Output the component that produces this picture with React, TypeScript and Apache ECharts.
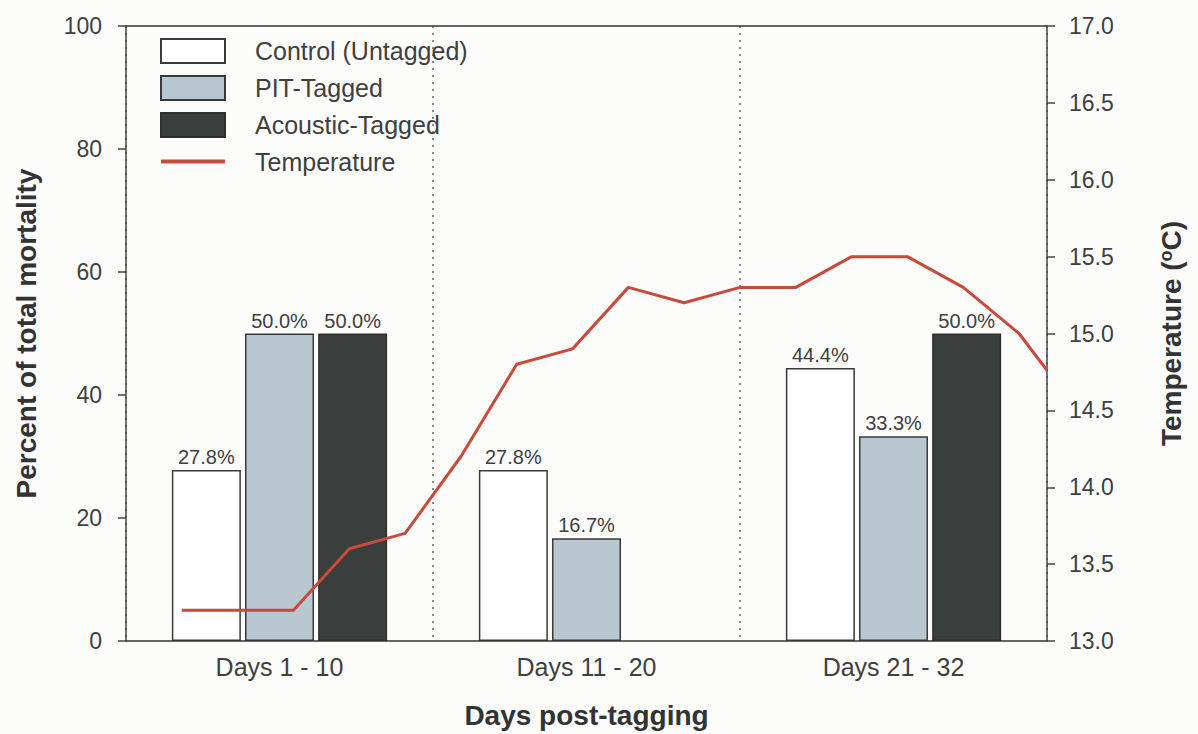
import React, { useEffect, useRef } from "react";
import * as echarts from "echarts";

const categories = ["Days 1 - 10", "Days 11 - 20", "Days 21 - 32"];
const controlValues = [27.8, 27.8, 44.4];
const pitValues = [50.0, 16.7, 33.3];
const acousticValues: (number | null)[] = [50.0, null, 50.0];
const tempDays = [2, 4, 6, 8, 10, 12, 14, 16, 18, 20, 22, 24, 26, 28, 30, 32, 33];
const tempValues = [13.2, 13.2, 13.2, 13.6, 13.7, 14.2, 14.8, 14.9, 15.3, 15.2, 15.3, 15.3, 15.5, 15.5, 15.3, 15.0, 14.76];
const leftTicks = { min: 0, max: 100, interval: 20 };
const rightTicks = { min: 13, max: 17, interval: 0.5 };

const FONT = "'Liberation Sans', Arial, sans-serif";
const TXT = "#404040";

export default function App() {
  const ref = useRef<HTMLDivElement>(null);
  useEffect(() => {
    if (!ref.current) return;
    const chart = echarts.init(ref.current, undefined, { renderer: "svg" });
    const barLabel = {
      show: true,
      position: "top",
      distance: 3,
      fontSize: 20,
      fontFamily: FONT,
      color: TXT,
      formatter: (p: any) => (p.value == null ? "" : `${Number(p.value).toFixed(1)}%`),
    };
    chart.setOption({
      animation: false,
      backgroundColor: "#fcfcfb",
      textStyle: { fontFamily: FONT },
      grid: { left: 126, right: 151, top: 26, bottom: 92 },
      legend: {
        orient: "vertical",
        left: 159,
        top: 38,
        padding: 0,
        itemWidth: 64,
        itemHeight: 24,
        itemGap: 11,
        data: [
          { name: "Control (Untagged)", icon: "rect" },
          { name: "PIT-Tagged", icon: "rect" },
          { name: "Acoustic-Tagged", icon: "rect" },
          { name: "Temperature", itemStyle: { opacity: 0 }, lineStyle: { width: 4 } },
        ],
        textStyle: { fontSize: 25, color: TXT, fontFamily: FONT, padding: [0, 0, 0, 25], lineHeight: 24 },
      },
      xAxis: [
        {
          type: "category",
          data: categories,
          position: "bottom",
          axisLine: { show: true, lineStyle: { color: "#333", width: 1.5 } },
          axisTick: { show: false },
          axisLabel: { fontSize: 25, color: TXT, margin: 13, fontFamily: FONT },
          splitLine: { show: true, lineStyle: { color: "#666", width: 1.5, type: [2, 5] } },
          name: "Days post-tagging",
          nameLocation: "middle",
          nameGap: 60,
          nameTextStyle: { fontSize: 28, fontWeight: "bold", color: "#333", fontFamily: FONT },
        },
        {
          type: "value",
          min: 0,
          max: 33,
          position: "top",
          show: true,
          axisLine: { show: true, onZero: false, lineStyle: { color: "#333", width: 1.5 } },
          axisTick: { show: false },
          axisLabel: { show: false },
          splitLine: { show: false },
        },
      ],
      yAxis: [
        {
          type: "value",
          ...leftTicks,
          position: "left",
          axisLine: { show: true, lineStyle: { color: "#444", width: 1.5 } },
          axisTick: { show: true, length: 8, lineStyle: { color: "#444", width: 1.5 } },
          axisLabel: { fontSize: 23, color: TXT, margin: 24, fontFamily: FONT },
          splitLine: { show: false },
          name: "Percent of total mortality",
          nameLocation: "middle",
          nameGap: 86,
          nameTextStyle: { fontSize: 28, fontWeight: "bold", color: "#333", fontFamily: FONT },
        },
        {
          type: "value",
          ...rightTicks,
          position: "right",
          axisLine: { show: true, lineStyle: { color: "#444", width: 1.5 } },
          axisTick: { show: true, length: 8, lineStyle: { color: "#444", width: 1.5 } },
          axisLabel: { fontSize: 23, color: TXT, margin: 22, fontFamily: FONT, formatter: (v: number) => v.toFixed(1) },
          splitLine: { show: false },
          name: "Temperature ({sup|o}C)",
          nameLocation: "middle",
          nameRotate: 90,
          nameGap: 110,
          nameTextStyle: {
            fontSize: 28,
            fontWeight: "bold",
            color: "#333",
            fontFamily: FONT,
            rich: {
              sup: { fontSize: 18, fontWeight: "bold", color: "#333", fontFamily: FONT, verticalAlign: "top", padding: [0, 0, 8, 0] },
            },
          },
        },
      ],
      series: [
        {
          name: "Control (Untagged)",
          type: "bar",
          data: controlValues,
          barWidth: 69,
          barGap: "6%",
          itemStyle: { color: "#ffffff", borderColor: "#3a3a3a", borderWidth: 1.5 },
          label: barLabel,
        },
        {
          name: "PIT-Tagged",
          type: "bar",
          data: pitValues,
          barWidth: 69,
          barGap: "6%",
          itemStyle: { color: "#b9c7d0", borderColor: "#3a3a3a", borderWidth: 1.5 },
          label: barLabel,
        },
        {
          name: "Acoustic-Tagged",
          type: "bar",
          data: acousticValues,
          barWidth: 69,
          barGap: "6%",
          itemStyle: { color: "#3a3f3d", borderColor: "#2e3130", borderWidth: 1.5 },
          label: barLabel,
        },
        {
          name: "Temperature",
          type: "line",
          xAxisIndex: 1,
          yAxisIndex: 1,
          data: tempDays.map((d, i) => [d, tempValues[i]]),
          symbol: "none",
          lineStyle: { color: "#c84a3b", width: 3 },
          itemStyle: { color: "#c84a3b" },
          z: 5,
        },
      ],
    });
    return () => chart.dispose();
  }, []);
  return <div ref={ref} style={{ position: "fixed", left: 0, top: 0, width: 1198, height: 734 }} />;
}
